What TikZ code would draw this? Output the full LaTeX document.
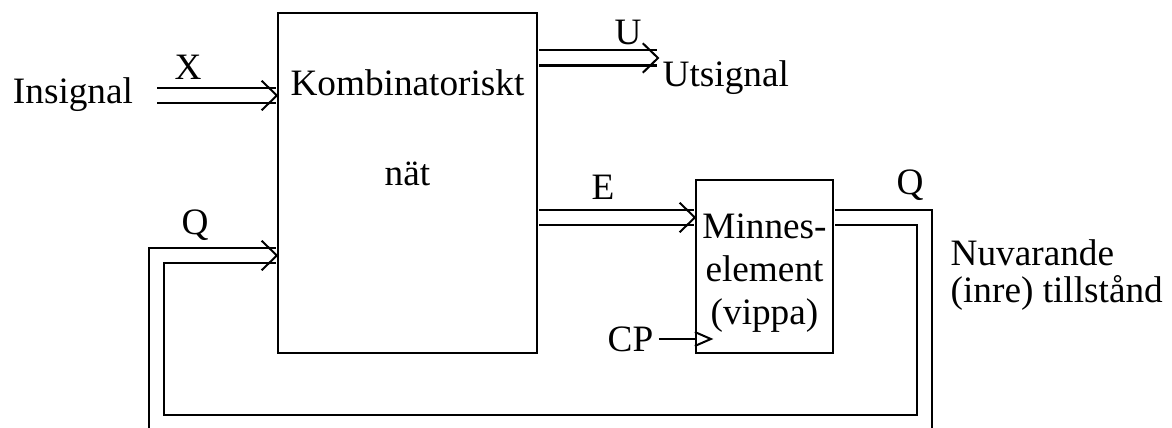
\documentclass[tikz,border=0pt]{standalone}
\usepackage{fontspec}
\setmainfont{Liberation Serif}
\usetikzlibrary{positioning,calc,decorations.markings}

\begin{document}
\begin{tikzpicture}[
  txt/.style={font=\fontsize{10.6}{12.2}\selectfont, inner sep=0.05cm},
  block/.style={draw, line width=0.65pt, txt, align=center},
  wire/.style={line width=0.57pt},
  bus/.style={wire, double, double distance=0.13cm, shorten <=0.3pt, shorten >=0.3pt,
    postaction={decorate, decoration={markings, mark=at position 1 with
      {\pgfsetlinewidth{0.57pt}\pgfsetmiterjoin
       \pgfpathmoveto{\pgfpoint{-0.16cm}{0.155cm}}\pgfpathlineto{\pgfpointorigin}
       \pgfpathlineto{\pgfpoint{-0.16cm}{-0.155cm}}\pgfusepath{stroke}}}}}]
  \clip (0,0) rectangle (11.72,4.27);

  %% Blocks
  \node[block, minimum width=2.59cm, minimum height=3.40cm] (komb) at (4.075,2.44) {};
  \node[txt, align=center] (kombtxt) at (4.075,2.99) {Kombinatoriskt\\[13.3pt]nät};
  \node[block, minimum width=1.37cm, minimum height=1.73cm] (minnes) at (7.645,1.605) {};
  \node[txt, align=center] (minnestxt) at (7.645,1.54) {Minnes-\\element\\(vippa)};

  %% Bus end points
  \coordinate (xin) at (1.56,3.315);
  \coordinate (uout) at (6.58,3.69);
  \coordinate (elev) at (6.2,2.095);
  \coordinate (loopr) at (9.245,0.045);
  \coordinate (qin) at (1.565,1.715);

  %% Buses
  \draw[bus] (xin) -- (xin -| komb.west);
  \draw[bus] (uout -| komb.east) -- (uout);
  \draw[bus] (elev -| komb.east) -- (elev -| minnes.west);
  \draw[bus] (elev -| minnes.east) -| (loopr) -| (qin) -- (qin -| komb.west);

  %% Clock input
  \node[txt] (cp) at (6.305,0.88) {CP};
  \draw[wire] (cp.east) -- (cp.east -| minnes.west);
  \draw[wire] ($(cp.east -| minnes.west)+(0,0.07)$) -- ++(0.16,-0.07) -- ++(-0.16,-0.07);

  %% Labels
  \node[txt] (insig) at (0.73,3.32) {Insignal};
  \node[txt] (xlbl) at (1.88,3.60) {X};
  \node[txt] (ulbl) at (6.28,3.95) {U};
  \node[txt, anchor=west] (utsig) at (6.57,3.49) {Utsignal};
  \node[txt] (elbl) at (6.03,2.40) {E};
  \node[txt] (qlbl) at (1.95,2.02) {Q};
  \node[txt] (qout) at (9.10,2.42) {Q};
  \node[txt, anchor=west, align=left, font=\fontsize{10.6}{10.4}\selectfont] (state) at (9.45,1.52) {Nuvarande\\(inre) tillstånd};
\end{tikzpicture}
\end{document}
